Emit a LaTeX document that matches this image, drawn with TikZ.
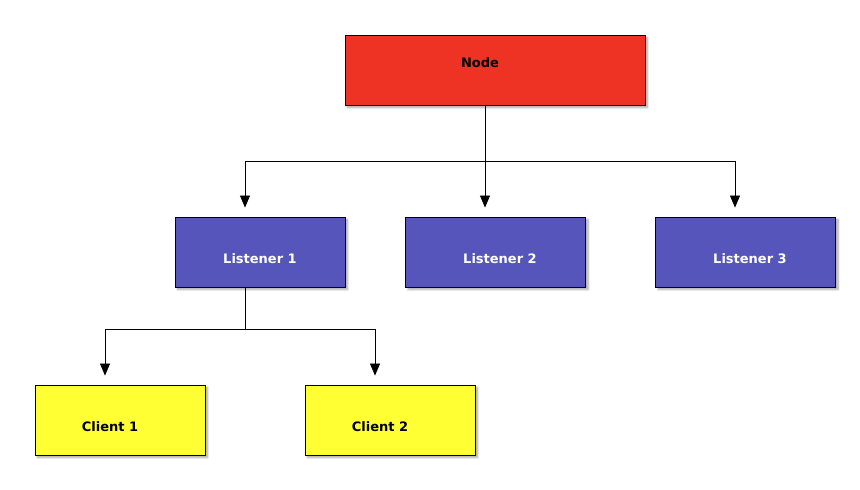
\documentclass[tikz,border=0pt]{standalone}
\usepackage{fontspec}
\setmainfont{DejaVu Sans}
\usetikzlibrary{arrows.meta,shadows.blur}

\definecolor{rootred}{RGB}{238,51,36}
\definecolor{listenerblue}{RGB}{85,85,187}
\definecolor{clientyellow}{RGB}{255,255,51}

\tikzset{
  box/.style={draw=black,line width=0.9pt,minimum height=70pt,inner sep=0pt,
    blur shadow={shadow xshift=2.5pt,shadow yshift=-2.5pt,shadow blur steps=6,shadow blur radius=2pt,shadow opacity=35}},
  rootbox/.style={box,fill=rootred,minimum width=300pt},
  listenerbox/.style={box,fill=listenerblue,minimum width=170pt},
  clientbox/.style={box,fill=clientyellow,minimum width=170pt},
  boxtext/.style={font=\fontsize{13}{15}\selectfont\bfseries,inner sep=0pt},
  link/.style={line width=0.8pt,-{Triangle[length=12pt,width=10pt]},shorten >=9pt},
}

\begin{document}
\begin{tikzpicture}[x=1pt,y=-1pt]
  \useasboundingbox (0,0) rectangle (860,490);

  \node[rootbox] (root) at (495,70) {};
  \node[boxtext] (rootText) at (480,63) {Node};

  \node[listenerbox] (lis1) at (260,252) {};
  \node[listenerbox,minimum width=180pt] (lis2) at (495.5,252) {};
  \node[listenerbox,minimum width=180pt] (lis3) at (745.5,252) {};
  \node[boxtext,white] (lis1Text) at (260,259) {Listener 1};
  \node[boxtext,white] (lis2Text) at (500,259) {Listener 2};
  \node[boxtext,white] (lis3Text) at (750,259) {Listener 3};

  \node[clientbox] (cli1) at (120,420) {};
  \node[clientbox] (cli2) at (390,420) {};
  \node[boxtext] (cli1Text) at (110,427) {Client 1};
  \node[boxtext] (cli2Text) at (380,427) {Client 2};

  % node -> listeners
  \coordinate (rootSplit) at (485,161);
  \draw[link] (root.south -| rootSplit) -- (rootSplit) -| ([xshift=-15pt]lis1.north);
  \draw[link] (root.south -| rootSplit) -- ([xshift=-10.5pt]lis2.north);
  \draw[link] (rootSplit) -| ([xshift=-10.5pt]lis3.north);

  % listener 1 -> clients
  \coordinate (lisSplit) at (245,329);
  \draw[link] (lis1.south -| lisSplit) -- (lisSplit) -| ([xshift=-15pt]cli1.north);
  \draw[link] (lisSplit) -| ([xshift=-15pt]cli2.north);
\end{tikzpicture}
\end{document}
